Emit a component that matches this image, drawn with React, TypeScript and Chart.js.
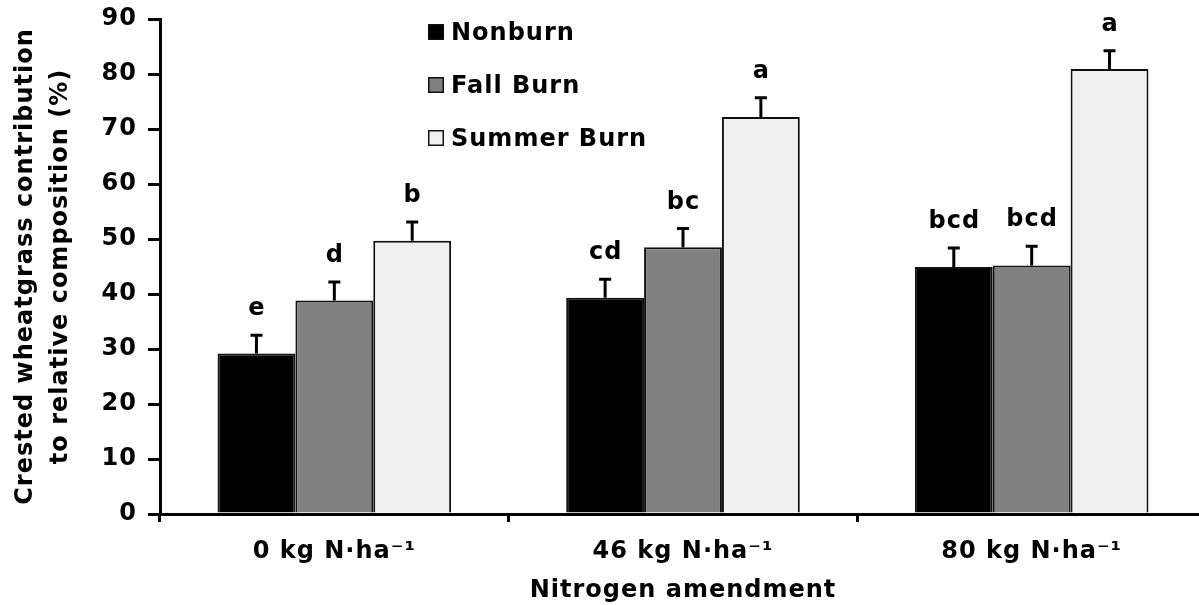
import React, { useEffect, useRef } from "react";
import { Chart, registerables } from "chart.js";

Chart.register(...registerables);

const categories = ["0 kg N·ha⁻¹", "46 kg N·ha⁻¹", "80 kg N·ha⁻¹"];
const seriesNames = ["Nonburn", "Fall Burn", "Summer Burn"];
const nonburn = [29.2, 39.3, 44.9];
const fallBurn = [38.8, 48.5, 45.2];
const summerBurn = [49.7, 72.2, 80.9];
const nonburnErr = [3.3, 3.4, 3.45];
const fallBurnErr = [3.4, 3.4, 3.5];
const summerBurnErr = [3.4, 3.5, 3.35];
const nonburnLetters = ["e", "cd", "bcd"];
const fallBurnLetters = ["d", "bc", "bcd"];
const summerBurnLetters = ["b", "a", "a"];
const yMin = 0;
const yMax = 90;
const yStep = 10;
const yTitle = ["Crested wheatgrass contribution", "to relative composition (%)"];
const xTitle = "Nitrogen amendment";

const FONT = "'DejaVu Sans', Verdana, sans-serif";
const FS = 24;
const fills = ["#000000", "#808080", "#f0f0f0"];
const errs = [nonburnErr, fallBurnErr, summerBurnErr];
const letters = [nonburnLetters, fallBurnLetters, summerBurnLetters];

const spacingPlugin = {
  id: "letterSpacing",
  beforeUpdate(chart: any) {
    chart.ctx.letterSpacing = "1px";
  },
  beforeDraw(chart: any) {
    chart.ctx.letterSpacing = "1px";
  },
};

const errorBarPlugin = {
  id: "errorBars",
  afterDatasetsDraw(chart: any) {
    const ctx = chart.ctx;
    const yScale = chart.scales.y;
    ctx.save();
    chart.data.datasets.forEach((ds: any, i: number) => {
      const meta = chart.getDatasetMeta(i);
      meta.data.forEach((bar: any, j: number) => {
        const v = ds.data[j];
        const top = yScale.getPixelForValue(v);
        const capY = yScale.getPixelForValue(v + errs[i][j]);
        ctx.strokeStyle = "#000";
        ctx.lineWidth = 3;
        ctx.beginPath();
        ctx.moveTo(bar.x, top);
        ctx.lineTo(bar.x, capY);
        ctx.moveTo(bar.x - 6, capY);
        ctx.lineTo(bar.x + 6, capY);
        ctx.stroke();
        ctx.fillStyle = "#000";
        ctx.font = `bold ${FS}px ${FONT}`;
        ctx.letterSpacing = "1px";
        ctx.textAlign = "center";
        ctx.textBaseline = "alphabetic";
        ctx.fillText(letters[i][j], bar.x + 0.5, capY - 20);
      });
    });
    ctx.restore();
  },
};

const legendPlugin = {
  id: "boxLegend",
  afterDraw(chart: any) {
    const ctx = chart.ctx;
    const area = chart.chartArea;
    const x0 = area.left + 268;
    const y0 = 32;
    const gap = 53;
    ctx.save();
    chart.data.datasets.forEach((ds: any, i: number) => {
      const cy = y0 + i * gap;
      ctx.fillStyle = ds.backgroundColor;
      ctx.fillRect(x0, cy - 8, 16, 16);
      ctx.strokeStyle = "#111";
      ctx.lineWidth = 1.5;
      ctx.strokeRect(x0 + 0.75, cy - 7.25, 14.5, 14.5);
      ctx.fillStyle = "#000";
      ctx.font = `bold ${FS}px ${FONT}`;
      ctx.letterSpacing = "1px";
      ctx.textAlign = "left";
      ctx.textBaseline = "middle";
      ctx.fillText(ds.label, x0 + 23, cy + 2);
    });
    ctx.restore();
  },
};

export default function App() {
  const ref = useRef<HTMLCanvasElement>(null);
  useEffect(() => {
    if (!ref.current) return;
    const series = [nonburn, fallBurn, summerBurn];
    const chart = new Chart(ref.current, {
      type: "bar",
      data: {
        labels: categories,
        datasets: series.map((d, i) => ({
          label: seriesNames[i],
          data: d,
          backgroundColor: fills[i],
          borderColor: "#111",
          borderWidth: 2,
          barPercentage: 1,
          categoryPercentage: 0.67,
        })),
      },
      options: {
        responsive: false,
        animation: false,
        devicePixelRatio: 1,
        layout: { padding: { top: 19, right: 1, left: 0, bottom: 0 } },
        plugins: {
          legend: { display: false },
          tooltip: { enabled: false },
        },
        scales: {
          x: {
            offset: true,
            grid: {
              offset: true,
              drawOnChartArea: false,
              drawTicks: true,
              tickLength: 8,
              color: "#000",
              lineWidth: 3,
            },
            border: { display: true, color: "#000", width: 3 },
            ticks: {
              color: "#000",
              padding: 15,
              font: { family: FONT, size: FS, weight: "bold" },
            },
            title: {
              display: true,
              text: xTitle,
              color: "#000",
              padding: { top: 0, bottom: 0 },
              font: { family: FONT, size: FS, weight: "bold" },
            },
            afterFit(scale: any) {
              scale.height = 91;
              scale.paddingLeft = 0;
              scale.paddingRight = 0;
            },
          },
          y: {
            min: yMin,
            max: yMax,
            grid: {
              drawOnChartArea: false,
              drawTicks: true,
              tickLength: 12,
              color: "#000",
              lineWidth: 3,
            },
            border: { display: true, color: "#000", width: 3 },
            ticks: {
              stepSize: yStep,
              color: "#000",
              padding: 11,
              font: { family: FONT, size: FS, weight: "bold" },
            },
            title: {
              display: true,
              text: yTitle,
              color: "#000",
              padding: { top: 8, bottom: 0 },
              font: { family: FONT, size: FS, weight: "bold", lineHeight: 1.46 },
            },
            afterFit(scale: any) {
              scale.width = 160;
              scale.paddingTop = 0;
              scale.paddingBottom = 0;
            },
          },
        },
      },
      plugins: [spacingPlugin, errorBarPlugin, legendPlugin],
    });
    return () => chart.destroy();
  }, []);
  return (
    <div
      style={{
        position: "fixed",
        left: 0,
        top: 0,
        width: 1199,
        height: 605,
        overflow: "hidden",
        background: "#fff",
      }}
    >
      <canvas ref={ref} width={1207} height={605} style={{ display: "block" }} />
    </div>
  );
}
